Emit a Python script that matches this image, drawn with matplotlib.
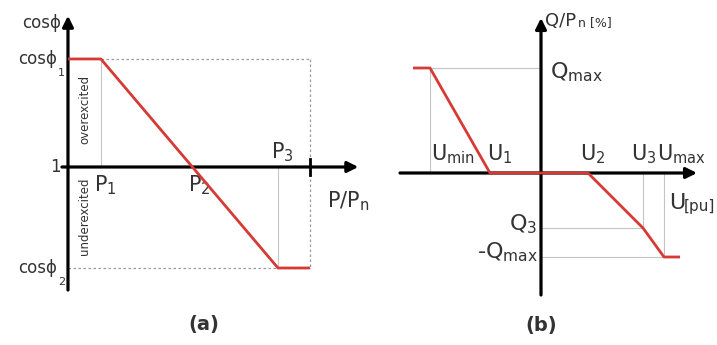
import matplotlib.pyplot as plt

# (a) power-factor characteristic cos(phi) = f(P/Pn)
P1, P2, P3, P_END = 0.136, 0.514, 0.868, 1.0
COS1, COS2 = 1.0, -0.935
curve_a_p = [0.0, P1, P3, P_END]
curve_a_c = [COS1, COS1, COS2, COS2]

# (b) reactive power characteristic Q = f(U)
U_START, U_MIN, U1, U2, U3, U_MAX, U_END = -1.28, -1.11, -0.51, 0.47, 1.02, 1.23, 1.39
Q_MAX, Q3, Q_MIN = 1.05, -0.55, -0.84
curve_b_u = [U_START, U_MIN, U1, U2, U3, U_MAX, U_END]
curve_b_q = [Q_MAX, Q_MAX, 0.0, 0.0, Q3, Q_MIN, Q_MIN]

RED = '#d63a35'
TXT = '#333333'
GREY = '#c4c4c4'

fig = plt.figure(figsize=(7.17, 3.45), dpi=100)
ax_a = fig.add_axes([0, 0, 360 / 717, 1])
ax_b = fig.add_axes([360 / 717, 0, 357 / 717, 1])
ax_a.set_xlim(-0.281, 1.207)
ax_a.set_ylim(-1.648, 1.546)
ax_b.set_xlim(-1.81, 1.76)
ax_b.set_ylim(-1.72, 1.73)
for ax in (ax_a, ax_b):
    ax.axis('off')


def axis_arrow(ax, start, tip):
    ax.annotate('', xy=tip, xytext=start,
                arrowprops=dict(arrowstyle='-|>', lw=2.3, color='black',
                                mutation_scale=16, shrinkA=0, shrinkB=0))


# ---------- panel (a) ----------
ax_a.plot([P1, P_END], [COS1, COS1], ls=(0, (2, 2)), color='#9a9a9a', lw=0.9)
ax_a.plot([P_END, P_END], [COS1, COS2], ls=(0, (2, 2)), color='#9a9a9a', lw=0.9)
ax_a.plot([0, P_END], [COS2, COS2], ls=(0, (2, 2)), color='#9a9a9a', lw=0.9)
ax_a.plot([P1, P1], [0, COS1], color=GREY, lw=0.8)
ax_a.plot([P3, P3], [0, COS2], color=GREY, lw=0.8)

axis_arrow(ax_a, (0, -1.139), (0, 1.40))
axis_arrow(ax_a, (-0.025, 0), (1.20, 0))
ax_a.plot([P_END, P_END], [-0.07, 0.07], color='black', lw=2)

ax_a.plot(curve_a_p, curve_a_c, color=RED, lw=2, zorder=5, solid_capstyle='butt')

ax_a.text(-0.028, 1.33, 'cosϕ', ha='right', va='center', fontsize=12, color=TXT)
ax_a.text(-0.045, COS1, 'cosϕ', ha='right', va='center', fontsize=12, color=TXT)
ax_a.text(-0.04, COS1 - 0.13, '1', ha='left', va='center', fontsize=8, color=TXT)
ax_a.text(-0.03, 0, '1', ha='right', va='center', fontsize=12, color=TXT)
ax_a.text(-0.045, COS2, 'cosϕ', ha='right', va='center', fontsize=12, color=TXT)
ax_a.text(-0.04, COS2 - 0.13, '2', ha='left', va='center', fontsize=8, color=TXT)

ax_a.text(P1 - 0.03, -0.17, r'P$_1$', ha='left', va='center', fontsize=15, color=TXT)
ax_a.text(P2 - 0.02, -0.17, r'P$_2$', ha='left', va='center', fontsize=15, color=TXT)
ax_a.text(P3 - 0.03, 0.14, r'P$_3$', ha='left', va='center', fontsize=15, color=TXT)
ax_a.text(1.07, -0.32, r'P/P$_\mathregular{n}$', ha='left', va='center', fontsize=15, color=TXT)

ax_a.text(0.07, 0.53, 'overexcited', rotation=90, ha='center', va='center',
          fontsize=8.5, color=TXT)
ax_a.text(0.07, -0.46, 'underexcited', rotation=90, ha='center', va='center',
          fontsize=8.5, color=TXT)
ax_a.text(0.56, -1.46, '(a)', ha='center', va='center', fontsize=14,
          fontweight='bold', color=TXT)

# ---------- panel (b) ----------
ax_b.plot([U_MIN, U_MIN], [0, Q_MAX], color=GREY, lw=0.8)
ax_b.plot([U_MIN, 0], [Q_MAX, Q_MAX], color=GREY, lw=0.8)
ax_b.plot([U3, U3], [0, Q3], color=GREY, lw=0.8)
ax_b.plot([0, U3], [Q3, Q3], color=GREY, lw=0.8)
ax_b.plot([U_MAX, U_MAX], [0, Q_MIN], color=GREY, lw=0.8)
ax_b.plot([0, U_MAX], [Q_MIN, Q_MIN], color=GREY, lw=0.8)

axis_arrow(ax_b, (0, -1.22), (0, 1.55))
axis_arrow(ax_b, (-1.41, 0), (1.56, 0))

ax_b.plot(curve_b_u, curve_b_q, color=RED, lw=2, zorder=5, solid_capstyle='butt')

ax_b.text(0.04, 1.47, 'Q/P', ha='left', va='baseline', fontsize=13, color=TXT)
ax_b.text(0.37, 1.47, 'n [%]', ha='left', va='baseline', fontsize=9, color=TXT)
ax_b.text(0.09, Q_MAX - 0.04, r'Q$_\mathregular{max}$', ha='left', va='center',
          fontsize=16, color=TXT)
ax_b.text(U_MIN + 0.01, 0.19, r'U$_\mathregular{min}$', ha='left', va='center',
          fontsize=15, color=TXT)
ax_b.text(U1 - 0.03, 0.19, r'U$_1$', ha='left', va='center', fontsize=15, color=TXT)
ax_b.text(U2 - 0.08, 0.19, r'U$_2$', ha='left', va='center', fontsize=15, color=TXT)
ax_b.text(U3 - 0.12, 0.19, r'U$_3$', ha='left', va='center', fontsize=15, color=TXT)
ax_b.text(U_MAX - 0.07, 0.19, r'U$_\mathregular{max}$', ha='left', va='center',
          fontsize=15, color=TXT)
ax_b.text(1.28, -0.30, 'U', ha='left', va='center', fontsize=16, color=TXT)
ax_b.text(1.43, -0.33, '[pu]', ha='left', va='center', fontsize=11, color=TXT)
ax_b.text(-0.04, Q3 + 0.04, r'Q$_3$', ha='right', va='center', fontsize=16, color=TXT)
ax_b.text(-0.03, Q_MIN + 0.05, r'-Q$_\mathregular{max}$', ha='right', va='center',
          fontsize=16, color=TXT)
ax_b.text(0.0, -1.52, '(b)', ha='center', va='center', fontsize=14,
          fontweight='bold', color=TXT)

fig.savefig('out.png', dpi=100, facecolor='white')
